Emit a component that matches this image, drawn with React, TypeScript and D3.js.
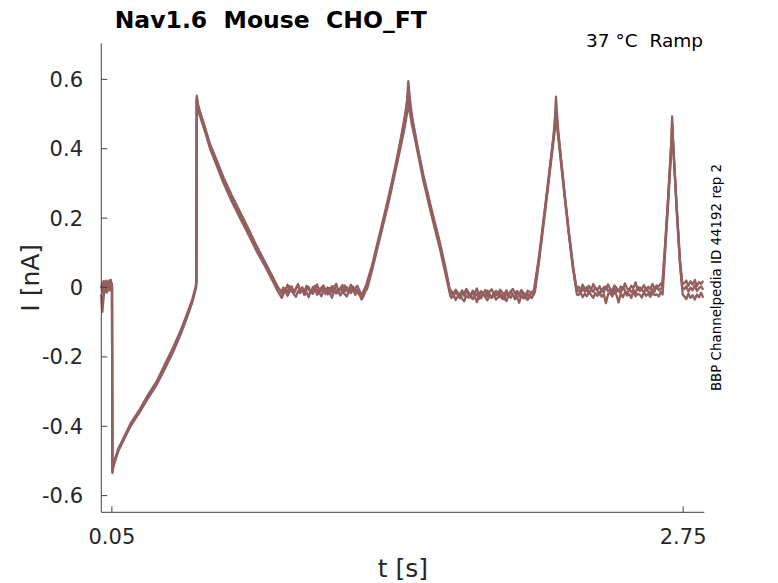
import React from "react";
import * as d3 from "d3";

// ---- axis / labels ----
const xTicks = [0.05, 2.75];
const yTicks = [-0.6, -0.4, -0.2, 0, 0.2, 0.4, 0.6];
const xDomain = [0, 2.85];
const yDomain = [-0.648, 0.704];
const titleText = "Nav1.6  Mouse  CHO_FT";
const conditionText = "37 °C  Ramp";
const sideText = "BBP Channelpedia ID 44192 rep 2";
const xLabel = "t [s]";
const yLabel = "I [nA]";

// ---- baseline sampling (evenly sampled recordings) ----
const preStart = 0, preStep = 0.005;
const base1Start = 0.86, base2Start = 1.655, base3Start = 2.255, base4Start = 2.755;
const baseStep = 0.01;

// ---- trace A ----
const preA = [0.005, -0.01, 0.018, -0.005, 0.02, 0.002, 0.015, -0.006, 0.02, 0.008, 0.012];
const ramp1A = [[0.0505,0.01],[0.0525,-0.535],[0.056,-0.52],[0.065,-0.5],[0.08,-0.472],[0.104,-0.442],[0.14,-0.395],[0.183,-0.354],[0.22,-0.318],[0.262,-0.276],[0.30,-0.23],[0.34,-0.18],[0.375,-0.13],[0.404,-0.084],[0.43,-0.04],[0.447,0.0],[0.4495,0.02],[0.451,0.553],[0.456,0.53],[0.466,0.508],[0.49,0.462],[0.514,0.413],[0.545,0.368],[0.577,0.318],[0.615,0.268],[0.656,0.218],[0.695,0.17],[0.734,0.12],[0.775,0.072],[0.813,0.027],[0.835,0.0],[0.853,-0.018]];
const base1A = [-0.012,-0.002,-0.015,0.004,-0.01,-0.018,-0.003,0.006,-0.012,-0.004,-0.02,-0.006,0.002,-0.014,-0.008,0.005,-0.016,-0.003,-0.011,0.003,-0.019,-0.007,-0.001,-0.013,0.004,-0.009,-0.017,-0.002,-0.012,0.006,-0.008,-0.015,-0.004,0.003,-0.011,-0.006,-0.022,-0.03,-0.01,0.004];
const ramp2A = [[1.254,0.005],[1.28,0.06],[1.30,0.11],[1.33,0.185],[1.36,0.26],[1.39,0.345],[1.415,0.42],[1.435,0.49],[1.445,0.54],[1.451,0.595],[1.456,0.56],[1.465,0.51],[1.48,0.45],[1.50,0.385],[1.522,0.318],[1.56,0.22],[1.601,0.12],[1.63,0.04],[1.648,-0.01]];
const base2A = [-0.015,-0.026,-0.01,-0.022,-0.031,-0.014,-0.024,-0.008,-0.02,-0.029,-0.012,-0.025,-0.018,-0.033,-0.011,-0.021,-0.027,-0.009,-0.019,-0.03,-0.016,-0.023,-0.012,-0.028,-0.02,-0.035,-0.014,-0.024,-0.01,-0.021,-0.029,-0.016,-0.025,-0.011,-0.022,-0.031,-0.018,-0.026,-0.013,-0.02];
const ramp3A = [[2.049,0.0],[2.07,0.09],[2.09,0.19],[2.11,0.29],[2.125,0.37],[2.138,0.44],[2.145,0.5],[2.149,0.55],[2.153,0.51],[2.16,0.45],[2.175,0.36],[2.19,0.27],[2.21,0.16],[2.23,0.06],[2.247,-0.01]];
const base3A = [-0.008,-0.016,-0.003,-0.012,0.002,-0.018,-0.007,-0.013,0.0,-0.01,-0.02,-0.005,-0.014,0.003,-0.011,-0.006,-0.017,-0.002,-0.012,-0.008,-0.015,0.001,-0.009,-0.019,-0.004,-0.013,-0.007,-0.016,0.002,-0.01,-0.006,-0.014,-0.001,-0.011,-0.018,-0.005,-0.012,0.004,-0.008,-0.003];
const ramp4A = [[2.652,0.0],[2.665,0.12],[2.68,0.265],[2.69,0.37],[2.695,0.43],[2.698,0.493],[2.701,0.44],[2.708,0.36],[2.72,0.23],[2.735,0.08],[2.747,0.01]];
const base4A = [0.012,0.02,0.005,0.018,0.008,0.022,0.004,0.016,0.01,0.019];

// ---- trace B ----
const preB = [-0.02,-0.07,-0.035,-0.01,0.012,-0.015,0.005,0.02,-0.008,0.015,0.003];
const ramp1B = [[0.0505,0.0],[0.0525,-0.525],[0.057,-0.51],[0.066,-0.492],[0.08,-0.465],[0.104,-0.435],[0.14,-0.39],[0.183,-0.35],[0.22,-0.31],[0.262,-0.27],[0.30,-0.222],[0.34,-0.172],[0.375,-0.124],[0.404,-0.078],[0.43,-0.034],[0.446,0.002],[0.4485,0.015],[0.4505,0.54],[0.456,0.515],[0.466,0.495],[0.49,0.45],[0.514,0.4],[0.545,0.352],[0.577,0.302],[0.615,0.25],[0.656,0.2],[0.695,0.153],[0.734,0.105],[0.775,0.06],[0.813,0.015],[0.833,-0.01],[0.853,-0.03]];
const base1B = [-0.02,-0.008,-0.024,-0.012,-0.003,-0.019,-0.027,-0.01,-0.016,-0.005,-0.022,-0.013,-0.028,-0.009,-0.018,-0.004,-0.021,-0.014,-0.025,-0.011,-0.006,-0.02,-0.015,-0.03,-0.01,-0.017,-0.007,-0.023,-0.012,-0.019,-0.026,-0.009,-0.016,-0.004,-0.021,-0.013,-0.018,-0.035,-0.024,-0.008];
const ramp2B = [[1.256,-0.005],[1.28,0.05],[1.30,0.1],[1.33,0.175],[1.36,0.25],[1.39,0.335],[1.415,0.405],[1.435,0.465],[1.447,0.51],[1.452,0.53],[1.458,0.505],[1.468,0.47],[1.48,0.435],[1.50,0.375],[1.522,0.308],[1.56,0.21],[1.601,0.11],[1.63,0.03],[1.65,-0.025]];
const base2B = [-0.03,-0.021,-0.036,-0.025,-0.017,-0.032,-0.04,-0.023,-0.029,-0.019,-0.034,-0.026,-0.042,-0.022,-0.031,-0.018,-0.027,-0.037,-0.024,-0.03,-0.02,-0.035,-0.028,-0.016,-0.033,-0.025,-0.039,-0.022,-0.03,-0.019,-0.034,-0.027,-0.044,-0.023,-0.031,-0.02,-0.036,-0.026,-0.03,-0.018];
const ramp3B = [[2.05,-0.01],[2.07,0.08],[2.09,0.18],[2.11,0.28],[2.125,0.36],[2.138,0.425],[2.146,0.465],[2.15,0.485],[2.155,0.46],[2.162,0.42],[2.175,0.345],[2.19,0.26],[2.21,0.15],[2.23,0.05],[2.248,-0.02]];
const base3B = [-0.022,-0.014,-0.028,-0.018,-0.025,-0.011,-0.021,-0.03,-0.016,-0.024,-0.013,-0.027,-0.019,-0.045,-0.02,-0.015,-0.026,-0.012,-0.022,-0.043,-0.017,-0.028,-0.014,-0.023,-0.019,-0.03,-0.011,-0.025,-0.018,-0.021,-0.029,-0.013,-0.024,-0.017,-0.027,-0.015,-0.022,-0.02,-0.026,-0.012];
const ramp4B = [[2.653,-0.02],[2.665,0.105],[2.68,0.25],[2.69,0.355],[2.695,0.41],[2.699,0.46],[2.702,0.42],[2.709,0.34],[2.72,0.215],[2.735,0.065],[2.748,-0.02]];
const base4B = [-0.025,-0.033,-0.018,-0.03,-0.022,-0.035,-0.02,-0.028,-0.015,-0.03];

// ---- trace C ----
const preC = [0.0,0.012,-0.02,0.008,-0.004,0.018,-0.01,0.01,0.0,0.022,-0.005];
const ramp1C = [[0.0505,0.005],[0.0525,-0.53],[0.056,-0.515],[0.065,-0.498],[0.08,-0.47],[0.104,-0.44],[0.14,-0.398],[0.183,-0.358],[0.22,-0.32],[0.262,-0.28],[0.30,-0.235],[0.34,-0.185],[0.375,-0.135],[0.404,-0.088],[0.43,-0.042],[0.448,0.0],[0.45,0.02],[0.4515,0.548],[0.457,0.525],[0.466,0.505],[0.49,0.458],[0.514,0.41],[0.545,0.36],[0.577,0.31],[0.615,0.258],[0.656,0.21],[0.695,0.162],[0.734,0.115],[0.775,0.068],[0.813,0.022],[0.838,-0.002],[0.853,-0.012]];
const base1C = [0.0,-0.011,0.008,-0.006,0.003,-0.014,-0.002,0.01,-0.008,0.001,-0.012,0.005,-0.004,-0.016,0.002,-0.007,0.009,-0.01,-0.001,0.006,-0.009,0.0,-0.015,0.004,-0.005,0.011,-0.008,-0.002,0.007,-0.012,0.001,-0.006,0.008,-0.01,-0.003,0.005,-0.009,-0.02,-0.012,0.002];
const ramp2C = [[1.252,0.008],[1.28,0.065],[1.30,0.115],[1.33,0.19],[1.36,0.268],[1.39,0.352],[1.415,0.428],[1.435,0.495],[1.446,0.535],[1.451,0.565],[1.457,0.53],[1.467,0.49],[1.48,0.455],[1.50,0.39],[1.522,0.325],[1.56,0.228],[1.601,0.128],[1.63,0.048],[1.646,-0.005]];
const base2C = [-0.01,-0.019,-0.006,-0.015,-0.022,-0.008,-0.017,-0.004,-0.013,-0.024,-0.009,-0.016,-0.003,-0.02,-0.011,-0.018,-0.007,-0.025,-0.012,-0.005,-0.017,-0.01,-0.021,-0.006,-0.014,-0.019,-0.008,-0.023,-0.012,-0.004,-0.016,-0.01,-0.02,-0.007,-0.015,-0.022,-0.009,-0.013,-0.018,-0.006];
const ramp3C = [[2.048,0.005],[2.07,0.095],[2.09,0.195],[2.11,0.295],[2.125,0.372],[2.138,0.44],[2.146,0.48],[2.149,0.5],[2.154,0.475],[2.161,0.435],[2.175,0.355],[2.19,0.268],[2.21,0.158],[2.23,0.058],[2.246,-0.002]];
const base3C = [0.002,-0.006,0.008,-0.003,-0.01,0.005,-0.008,0.01,-0.002,-0.007,0.004,-0.012,0.001,-0.005,0.009,-0.004,-0.009,0.006,-0.001,-0.011,0.003,-0.006,0.012,-0.003,-0.008,0.005,-0.002,0.015,-0.007,0.0,-0.004,0.007,-0.009,0.002,-0.005,0.01,-0.003,0.006,0.003,0.012];
const ramp4C = [[2.651,0.005],[2.665,0.125],[2.68,0.27],[2.69,0.375],[2.695,0.43],[2.698,0.475],[2.701,0.43],[2.708,0.355],[2.72,0.225],[2.735,0.075],[2.746,0.0]];
const base4C = [-0.005,0.004,-0.012,0.0,-0.008,0.006,-0.01,-0.002,0.003,-0.007];

type Pt = [number, number];
const sampled = (start: number, step: number, vals: number[]): Pt[] =>
  vals.map((v, i) => [start + i * step, v] as Pt);

const buildTrace = (pre: number[], r1: number[][], b1: number[], r2: number[][], b2: number[], r3: number[][], b3: number[], r4: number[][], b4: number[]): Pt[] => [
  ...sampled(preStart, preStep, pre),
  ...(r1 as Pt[]),
  ...sampled(base1Start, baseStep, b1),
  ...(r2 as Pt[]),
  ...sampled(base2Start, baseStep, b2),
  ...(r3 as Pt[]),
  ...sampled(base3Start, baseStep, b3),
  ...(r4 as Pt[]),
  ...sampled(base4Start, baseStep, b4),
];

const traces: Pt[][] = [
  buildTrace(preB, ramp1B, base1B, ramp2B, base2B, ramp3B, base3B, ramp4B, base4B),
  buildTrace(preC, ramp1C, base1C, ramp2C, base2C, ramp3C, base3C, ramp4C, base4C),
  buildTrace(preA, ramp1A, base1A, ramp2A, base2A, ramp3A, base3A, ramp4A, base4A),
];

const W = 778, H = 583;
const left = 101.3, right = 704.3, top = 43.3, bottom = 512.3;
const font = "'DejaVu Sans', sans-serif";
const axisColor = "#404040";
const textColor = "#262626";
const traceColor = "#935f5f";

export default function App() {
  const x = d3.scaleLinear().domain(xDomain).range([left, right]);
  const y = d3.scaleLinear().domain(yDomain).range([bottom, top]);
  const line = d3.line<Pt>().x((d) => x(d[0])).y((d) => y(d[1]));
  const fmt = (v: number) => (v === 0 ? "0" : v.toFixed(1));

  return (
    <svg width={W} height={H} style={{ position: "absolute", left: 0, top: 0, background: "#fff" }} fontFamily={font}>
      <rect x={0} y={0} width={W} height={H} fill="#fff" />
      <g>
        {traces.map((t, i) => (
          <path key={i} d={line(t) || ""} fill="none" stroke={traceColor} strokeWidth={2.3} strokeLinejoin="round" />
        ))}
      </g>
      {/* axes */}
      <line x1={left} y1={top} x2={left} y2={bottom} stroke={axisColor} strokeWidth={1} />
      <line x1={left} y1={bottom} x2={right} y2={bottom} stroke={axisColor} strokeWidth={1} />
      {yTicks.map((v) => (
        <g key={"y" + v}>
          <line x1={left} x2={left + 6} y1={y(v)} y2={y(v)} stroke={axisColor} strokeWidth={1} />
          <text x={83} y={y(v)} dy="0.36em" textAnchor="end" fontSize={21} fill={textColor}>{fmt(v)}</text>
        </g>
      ))}
      {xTicks.map((v) => (
        <g key={"x" + v}>
          <line x1={x(v)} x2={x(v)} y1={bottom} y2={bottom - 6} stroke={axisColor} strokeWidth={1} />
          <text x={x(v)} y={544} textAnchor="middle" fontSize={21} fill={textColor}>{v.toFixed(2)}</text>
        </g>
      ))}
      <text x={(left + right) / 2} y={577} textAnchor="middle" fontSize={25} fill={textColor}>{xLabel}</text>
      <text transform={`translate(39,${(top + bottom) / 2}) rotate(-90)`} textAnchor="middle" fontSize={25} fill={textColor}>{yLabel}</text>
      <text x={114.7} y={28} fontSize={23.5} fontWeight="bold" fill="#000" style={{ whiteSpace: "pre" }}>{titleText}</text>
      <text x={703} y={47} textAnchor="end" fontSize={18.5} fill="#000" style={{ whiteSpace: "pre" }}>{conditionText}</text>
      <text transform={`translate(721,277.5) rotate(-90)`} textAnchor="middle" fontSize={13.4} fill="#000">{sideText}</text>
    </svg>
  );
}
